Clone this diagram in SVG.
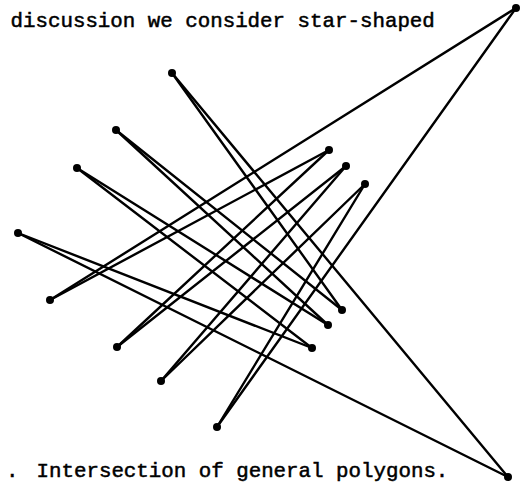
<svg xmlns="http://www.w3.org/2000/svg" width="529" height="483" viewBox="0 0 529 483">
<style>
.e{stroke:#000;stroke-width:2.4;stroke-linecap:round;fill:none}
.v{fill:#000}
.t{font-family:"Liberation Mono","DejaVu Sans Mono",monospace;font-size:20.8px;fill:#000;stroke:#000;stroke-width:0.5}
</style>
<rect width="529" height="483" fill="#fff"/>
<text class="t" x="10.5" y="27">discussion we consider star-shaped</text>
<text class="t" x="6" y="477">.</text>
<text class="t" x="36.5" y="477">Intersection of general polygons.</text>
<g id="connectors">
<line class="e" x1="516" y1="8" x2="50" y2="300"/>
<line class="e" x1="50" y1="300" x2="329" y2="150"/>
<line class="e" x1="329" y1="150" x2="117" y2="347"/>
<line class="e" x1="117" y1="347" x2="346" y2="166"/>
<line class="e" x1="346" y1="166" x2="161" y2="381"/>
<line class="e" x1="161" y1="381" x2="365" y2="184"/>
<line class="e" x1="365" y1="184" x2="217" y2="427"/>
<line class="e" x1="217" y1="427" x2="516" y2="8"/>
<line class="e" x1="508" y1="477" x2="172" y2="73"/>
<line class="e" x1="172" y1="73" x2="342" y2="310"/>
<line class="e" x1="342" y1="310" x2="116" y2="130"/>
<line class="e" x1="116" y1="130" x2="328" y2="325"/>
<line class="e" x1="328" y1="325" x2="77" y2="168"/>
<line class="e" x1="77" y1="168" x2="312" y2="348"/>
<line class="e" x1="312" y1="348" x2="18" y2="233"/>
<line class="e" x1="18" y1="233" x2="508" y2="477"/>
</g>
<g id="a"><circle class="v" cx="516" cy="8" r="4"/></g>
<g id="l1"><circle class="v" cx="50" cy="300" r="4"/></g>
<g id="u1"><circle class="v" cx="329" cy="150" r="4"/></g>
<g id="l2"><circle class="v" cx="117" cy="347" r="4"/></g>
<g id="u2"><circle class="v" cx="346" cy="166" r="4"/></g>
<g id="l3"><circle class="v" cx="161" cy="381" r="4"/></g>
<g id="u3"><circle class="v" cx="365" cy="184" r="4"/></g>
<g id="l4"><circle class="v" cx="217" cy="427" r="4"/></g>
<g id="b"><circle class="v" cx="508" cy="477" r="4"/></g>
<g id="p1"><circle class="v" cx="172" cy="73" r="4"/></g>
<g id="q1"><circle class="v" cx="342" cy="310" r="4"/></g>
<g id="p2"><circle class="v" cx="116" cy="130" r="4"/></g>
<g id="q2"><circle class="v" cx="328" cy="325" r="4"/></g>
<g id="p3"><circle class="v" cx="77" cy="168" r="4"/></g>
<g id="q3"><circle class="v" cx="312" cy="348" r="4"/></g>
<g id="p4"><circle class="v" cx="18" cy="233" r="4"/></g>
</svg>
